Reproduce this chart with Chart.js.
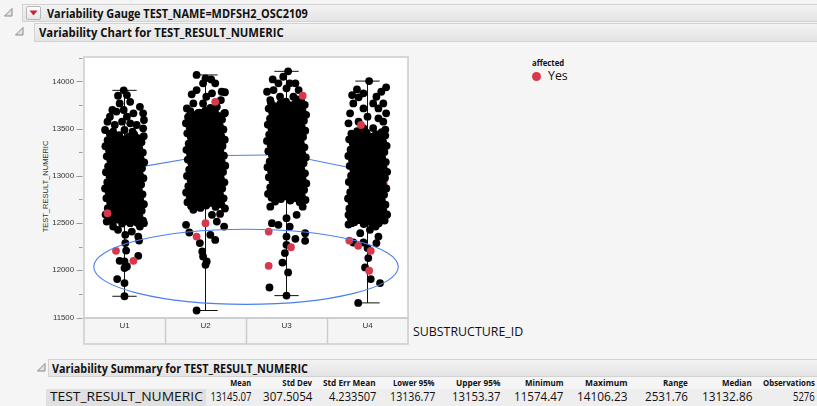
<!DOCTYPE html>
<html>
<head>
<meta charset="utf-8">
<script src="https://cdn.jsdelivr.net/npm/chart.js@4.4.1/dist/chart.umd.min.js"></script>
<style>
  html, body { margin: 0; padding: 0; }
  body { width: 817px; height: 406px; background: #f5f5f5; position: relative; overflow: hidden;
         font-family: "Open Sans", "Noto Sans", sans-serif; color: #111; }
  #chart { position: absolute; left: 0; top: 0; }
  .bar { position: absolute; box-sizing: border-box; border: 1px solid #d2d2d2;
         background: linear-gradient(#f2f2f2, #e4e4e4); }
  .t { position: absolute; white-space: nowrap; line-height: 1.2; }
  .b { font-weight: 700; }
  .tri { position: absolute; }
  .btn { position: absolute; left: 26px; top: 6px; width: 15px; height: 14px; box-sizing: border-box;
         border: 1px solid #b8b8b8; border-radius: 2px; background: linear-gradient(#ffffff, #e6e6e6); }
  .row { position: absolute; left: 206px; top: 389px; width: 611px; height: 17px; background: #eeeeee; }
  .cell { position: absolute; left: 46px; top: 389px; width: 160px; height: 17px; background: #e0e0e0; }
  .dot { position: absolute; left: 532px; top: 72px; width: 9.4px; height: 9.4px; border-radius: 50%; background: #d7384b; }
  #ytitle { position: absolute; white-space: nowrap; font-family: "Liberation Sans", sans-serif; font-size: 8px; color: #333; }
</style>
</head>
<body>
<!-- report outline header -->
<div class="bar" style="left:22px; top:4px; width:800px; height:18px;"></div>
<svg class="tri" style="left:4px; top:8px" width="9" height="9"><polygon points="8,0.5 8,8 0.5,8" fill="#e2e2e2" stroke="#8a8a8a" stroke-width="1"/></svg>
<div class="btn"><svg width="13" height="12" style="position:absolute;left:0;top:0"><polygon points="2.5,3.5 10.5,3.5 6.5,8.5" fill="#d0202e"/></svg></div>
<div class="t b" data-l="47" data-cy="13" data-w="261" style="font-size:12.5px">Variability Gauge TEST_NAME=MDFSH2_OSC2109</div>

<div class="bar" style="left:34px; top:23px; width:790px; height:19px;"></div>
<svg class="tri" style="left:15px; top:27px" width="9" height="9"><polygon points="8,0.5 8,8 0.5,8" fill="#e2e2e2" stroke="#8a8a8a" stroke-width="1"/></svg>
<div class="t b" data-l="39" data-cy="32" data-w="245" style="font-size:12.5px">Variability Chart for TEST_RESULT_NUMERIC</div>

<!-- legend -->
<div class="t b" data-l="532" data-cy="62.5" data-w="32" style="font-size:8px">affected</div>
<div class="dot"></div>
<div class="t" data-l="547.5" data-cy="76" data-w="20" style="font-size:13px">Yes</div>

<!-- axis titles -->
<div id="ytitle">TEST_RESULT_NUMERIC</div>
<div class="t" data-l="413" data-cy="331" data-w="110" style="font-size:12.5px">SUBSTRUCTURE_ID</div>

<!-- summary table -->
<div class="bar" style="left:48px; top:359px; width:780px; height:18px;"></div>
<svg class="tri" style="left:37px; top:363px" width="9" height="9"><polygon points="8,0.5 8,8 0.5,8" fill="#e2e2e2" stroke="#8a8a8a" stroke-width="1"/></svg>
<div class="t b" data-l="52" data-cy="368.5" data-w="256" style="font-size:12.5px">Variability Summary for TEST_RESULT_NUMERIC</div>
<div class="row"></div>
<div class="cell"></div>
<div id="summary"></div>

<canvas id="chart" width="817" height="406"></canvas>

<script>
// ---- data -------------------------------------------------------------
const categories = ['U1', 'U2', 'U3', 'U4'];
const yLabelTicks = [11500, 12000, 12500, 13000, 13500, 14000];
const cellMeans = [13066, 13213, 13223, 13048];
const rangeLow = [11725, 11574.47, 11732, 11655];
const rangeHigh = [13905, 14068, 14106.23, 14003];

// dense middle of each cell (values only, jittered sideways when drawn)
const coreU1 = [13445,13436,13431,13420,13414,13402,13398,13387,13378,13373,13361,13356,13344,13339,13330,13318,13313,13304,13293,13290,13278,13270,13266,13255,13246,13241,13229,13222,13214,13206,13197,13193,13180,13176,13165,13157,13150,13143,13132,13128,13116,13110,13101,13096,13084,13079,13070,13061,13055,13043,13039,13029,13020,13016,13004,12998,12990,12979,12975,12963,12958,12947,12942,12933,12922,12918,12907,12900,12893,12882,12878,12866,12861,12850,12845,12836,12825,12821,12809,12804,12796,12785,12781,12769,12763,12755,12744,12741,12728,12723,12714,12704,12699,12688,12683,12672,12667,12658,12647,12643,12631,12626,12617,12606,12601,12590,12585,12576,12565,12561,12549,12543,12536,12525,12520,12508,12503,12495];
const coreU2 = [13692,13684,13679,13668,13662,13650,13646,13635,13627,13622,13610,13604,13597,13586,13582,13570,13563,13557,13545,13541,13530,13522,13517,13505,13499,13491,13480,13476,13464,13459,13450,13439,13435,13423,13417,13409,13398,13394,13382,13376,13368,13357,13353,13341,13336,13327,13316,13312,13300,13295,13286,13275,13271,13259,13254,13245,13234,13230,13218,13213,13204,13193,13189,13177,13172,13163,13152,13148,13136,13131,13122,13111,13107,13095,13090,13081,13070,13066,13054,13049,13040,13029,13025,13013,13008,12999,12988,12984,12972,12967,12958,12947,12943,12931,12926,12917,12906,12902,12890,12885,12876,12865,12861,12849,12844,12835,12824,12820,12808,12803,12794,12783,12779,12767,12762,12753,12742,12738,12726,12721,12712,12701,12697,12685,12680,12671,12660,12654];
const coreU3 = [13792,13786,13777,13770,13764,13752,13748,13737,13729,13724,13712,13707,13698,13687,13683,13671,13666,13657,13646,13642,13630,13625,13616,13605,13601,13589,13584,13575,13564,13560,13548,13543,13534,13523,13519,13507,13502,13493,13482,13478,13466,13461,13452,13441,13437,13425,13420,13411,13400,13396,13384,13379,13370,13359,13355,13343,13338,13329,13318,13314,13302,13297,13288,13277,13273,13261,13256,13247,13236,13232,13220,13215,13206,13195,13191,13179,13174,13165,13154,13150,13138,13133,13124,13113,13109,13097,13092,13083,13072,13068,13056,13051,13042,13031,13027,13015,13010,13001,12990,12986,12974,12969,12960,12949,12945,12933,12928,12919,12908,12904,12892,12887,12878,12867,12863,12851,12846,12837,12826,12822,12810,12805,12796,12785,12781,12769,12764,12755,12744,12738,12727,12721];
const coreU4 = [13472,13463,13458,13447,13441,13430,13426,13414,13409,13399,13390,13386,13374,13369,13358,13351,13345,13333,13328,13318,13310,13305,13293,13288,13277,13269,13264,13252,13247,13236,13228,13223,13211,13206,13195,13187,13182,13170,13165,13154,13146,13141,13129,13124,13113,13105,13100,13088,13083,13072,13064,13059,13047,13042,13031,13023,13018,13006,13001,12990,12982,12977,12965,12960,12949,12941,12936,12924,12919,12908,12900,12895,12883,12878,12867,12859,12854,12842,12837,12826,12818,12813,12801,12796,12785,12777,12772,12760,12755,12744,12736,12731,12719,12714,12703,12695,12690,12678,12673,12662,12654,12649,12637,12632,12621,12613,12608,12596,12591,12580,12572,12567,12555,12550,12539,12531,12526,12514,12509,12498,12490,12485,12473];

// scattered observations: [jitter offset (category units), value]
const spreadU1 = [[-0.01,13905],[-0.08,13848],[0.03,13855],[0.07,13784],[-0.06,13767],[0.19,13731],[-0.01,13697],[-0.15,13697],[-0.1,13680],[0.23,13662],[0.11,13662],[-0.18,13626],[0.03,13626],[0.24,13591],[-0.21,13573],[-0.03,13573],[0.07,13556],[-0.12,13538],[0.15,13538],[0.23,13503],[-0.24,13485],[0,13485],[-0.14,13467],[0.1,13467],
  [-0.22,12516],[0.07,12499],[0.24,12499],[0.16,12569],[-0.14,12463],[0.19,12463],[-0.08,12428],[0.09,12410],[0.01,12375],[0.17,12357],[0.18,12315],[0.01,12288],[0.02,12209],[0.17,12153],[-0.06,12100],[0,12093],[0.03,12040],[0,12023],[-0.09,11907],[0,11865],[0,11725]];
const spreadU2 = [[-0.11,14068],[0,14032],[0.07,14021],[0.12,13979],[-0.03,13979],[-0.11,13908],[0.2,13890],[0.24,13885],[0.08,13873],[-0.17,13863],[0.01,13837],[0.19,13802],[-0.15,13767],[-0.03,13767],[0.14,13731],[-0.23,13714],[-0.09,13665],[0.24,13665],[-0.21,13626],[0.06,13720],
  [0.18,12597],[0.08,12587],[-0.15,12640],[0.14,12516],[-0.24,12481],[0.23,12463],[-0.2,12400],[0.06,12375],[0.12,12322],[-0.07,12288],[-0.04,12199],[-0.03,12146],[0.015,12093],[0,12058],[-0.11,11574.47]];
const spreadU3 = [[0.02,14106.23],[-0.04,14049],[-0.17,14021],[0.11,13979],[0.04,13979],[-0.1,13979],[0,13926],[0.15,13908],[-0.16,13908],[-0.24,13890],[0.085,13837],[-0.08,13837],[-0.2,13802],[0.13,13810],
  [-0.2,12674],[0.2,12674],[0.125,12587],[0,12552],[-0.18,12499],[-0.1,12481],[0.04,12463],[0.23,12393],[0,12357],[0.11,12333],[0.23,12312],[0,12270],[-0.02,12182],[-0.05,12082],[0.02,11977],[-0.21,11818],[0,11732]];
const spreadU4 = [[0.02,14003],[0.23,13937],[-0.13,13915],[0.17,13890],[-0.05,13873],[-0.19,13855],[0.11,13837],[-0.11,13831],[0.07,13767],[0.195,13767],[-0.175,13767],[-0.05,13714],[0.135,13714],[-0.215,13662],[0.23,13662],[0,13626],[0.135,13609],[0.195,13573],[-0.11,13573],[-0.235,13556],[-0.05,13506],[0.07,13506],[0.22,13490],
  [-0.235,12587],[0.24,12587],[0.195,12552],[-0.195,12499],[0.03,12428],[0.1,12463],[-0.09,12393],[0.135,12357],[-0.175,12294],[-0.05,12294],[0.11,12288],[0,12235],[0.01,12129],[-0.03,12030],[0.04,11907],[0.155,11865],[-0.115,11655]];

// affected = Yes observations: [jitter offset, value]
const affectedU1 = [[-0.21,12605],[-0.105,12206],[0.11,12100],[-0.07,13239],[0.06,12975]];
const affectedU2 = [[0.12,13784],[0.18,13327],[-0.07,12978],[-0.11,12357],[0,12499]];
const affectedU3 = [[0.2,13848],[-0.14,13380],[0.08,13309],[-0.2,12820],[-0.22,12410],[0.055,12245],[-0.22,12047]];
const affectedU4 = [[-0.08,13538],[0,13309],[-0.05,12992],[0.2,12925],[-0.225,12315],[-0.115,12259],[0.04,12206],[0.02,11995]];

// hand-drawn highlight ring (centre and radii in axis units)
const ringCenter = [1.5, 12037];
const ringRadii = [1.88, 398];

// summary statistics row
const summaryHeads = ['Mean','Std Dev','Std Err Mean','Lower 95%','Upper 95%','Minimum','Maximum','Range','Median','Observations'];
const summaryValues = ['13145.07','307.5054','4.233507','13136.77','13153.37','11574.47','14106.23','2531.76','13132.86','5276'];

// ---- build point sets --------------------------------------------------
const RED = '#d7384b';
const BLUE = '#4a80ee';
const JITTER = 0.245;
const PHI = 0.6180339887;
const cores = [coreU1, coreU2, coreU3, coreU4];
const spreads = [spreadU1, spreadU2, spreadU3, spreadU4];
const affected = [affectedU1, affectedU2, affectedU3, affectedU4];

const blackPts = [];
cores.forEach((vals, g) => vals.forEach((v, i) => {
  const f = (i * PHI + 0.37 * g + 0.13) % 1;
  blackPts.push({ x: g + (f - 0.5) * 2 * JITTER, y: v });
}));
spreads.forEach((pairs, g) => pairs.forEach(([o, v]) => blackPts.push({ x: g + o, y: v })));

// affected points inside the dense band sit under the black cloud,
// those above, below or on its outer rim are drawn on top
const redBack = [], redFront = [];
affected.forEach((pairs, g) => {
  const lo = Math.min(...cores[g]), hi = Math.max(...cores[g]);
  pairs.forEach(([o, v]) => {
    const inside = v >= lo && v <= hi && Math.abs(o) < 0.21;
    (inside ? redBack : redFront).push({ x: g + o, y: v });
  });
});

const whiskers = [];
categories.forEach((c, g) => {
  whiskers.push({ x: g, y: rangeLow[g] }, { x: g, y: rangeHigh[g] }, { x: g, y: null },
    { x: g - 0.15, y: rangeHigh[g] }, { x: g + 0.15, y: rangeHigh[g] }, { x: g, y: null },
    { x: g - 0.15, y: rangeLow[g] }, { x: g + 0.15, y: rangeLow[g] }, { x: g, y: null });
});
const meanLine = cellMeans.map((m, g) => ({ x: g, y: m }));

// ---- plot decorations ---------------------------------------------------
const BOX_H = 26;
const decor = {
  id: 'decor',
  beforeDatasetsDraw(chart) {
    const { ctx, chartArea: a } = chart;
    ctx.save();
    ctx.fillStyle = '#ffffff';
    ctx.fillRect(a.left, a.top, a.right - a.left, a.bottom - a.top);
    ctx.restore();
  },
  afterDatasetsDraw(chart) {
    const { ctx, scales: { x, y } } = chart;
    const cx = x.getPixelForValue(ringCenter[0]);
    const cy = y.getPixelForValue(ringCenter[1]);
    const rx = Math.abs(x.getPixelForValue(ringCenter[0] + ringRadii[0]) - cx);
    const ry = Math.abs(y.getPixelForValue(ringCenter[1] + ringRadii[1]) - cy);
    ctx.save();
    ctx.strokeStyle = BLUE;
    ctx.lineWidth = 1.1;
    ctx.beginPath();
    ctx.ellipse(cx, cy, rx, ry, 0, 0, Math.PI * 2);
    ctx.stroke();
    ctx.restore();
  },
  afterDraw(chart) {
    const { ctx, chartArea: a, scales: { x, y } } = chart;
    ctx.save();
    ctx.strokeStyle = '#cccccc';
    ctx.lineWidth = 1.5;
    ctx.strokeRect(a.left, a.top, a.right - a.left, a.bottom - a.top);
    ctx.strokeRect(a.left, a.bottom, a.right - a.left, BOX_H);
    for (let k = 0; k < categories.length - 1; k++) {
      const px = Math.round(x.getPixelForValue(k + 0.5)) + 0.5;
      ctx.beginPath(); ctx.moveTo(px, a.bottom); ctx.lineTo(px, a.bottom + BOX_H); ctx.stroke();
    }
    ctx.strokeStyle = '#999999';
    ctx.lineWidth = 1;
    for (let v = yLabelTicks[0]; v <= y.max; v += 250) {
      const py = Math.round(y.getPixelForValue(v)) + 0.5;
      const len = yLabelTicks.includes(v) ? 6 : 3.5;
      ctx.beginPath(); ctx.moveTo(a.left - 1.5 - len, py); ctx.lineTo(a.left - 1.5, py); ctx.stroke();
    }
    ctx.restore();
  }
};

const dot = { pointRadius: 3.9, pointHoverRadius: 3.9, borderWidth: 0, showLine: false };

new Chart(document.getElementById('chart'), {
  type: 'scatter',
  data: {
    datasets: [
      { data: redFront, backgroundColor: RED, ...dot, order: 0 },
      { data: blackPts, backgroundColor: '#000000', ...dot, order: 1 },
      { data: redBack, backgroundColor: RED, ...dot, order: 2 },
      { data: whiskers, showLine: true, spanGaps: false, borderColor: '#111111', borderWidth: 1,
        pointRadius: 0, order: 3 },
      { data: meanLine, showLine: true, borderColor: BLUE, borderWidth: 1.1, pointRadius: 0, order: 4 }
    ]
  },
  options: {
    responsive: false,
    animation: false,
    devicePixelRatio: 1,
    layout: { padding: { left: 0, top: 57, right: 409, bottom: 62 } },
    plugins: { legend: { display: false }, tooltip: { enabled: false } },
    scales: {
      x: {
        type: 'linear', min: -0.5, max: 3.5,
        afterBuildTicks: s => { s.ticks = categories.map((c, i) => ({ value: i })); },
        afterFit: s => { s.height = BOX_H; },
        ticks: { callback: v => categories[v], padding: 3, color: '#333',
                 font: { family: 'Liberation Sans', size: 8 }, maxRotation: 0, autoSkip: false },
        grid: { display: false, drawTicks: false },
        border: { display: false }
      },
      y: {
        min: 11495, max: 14258,
        afterBuildTicks: s => { s.ticks = yLabelTicks.map(v => ({ value: v })); },
        afterFit: s => { s.width = 84; },
        ticks: { callback: v => String(v), padding: 10, color: '#333',
                 font: { family: 'Liberation Sans', size: 7.8 } },
        grid: { display: false, drawTicks: false },
        border: { display: false }
      }
    }
  },
  plugins: [decor]
});

// ---- summary table text --------------------------------------------------
const headRight = [250.7, 312, 376, 435, 500, 563, 627, 688, 752, 815];
const headWidth = [20.7, 29.7, 53, 42, 44, 38, 42, 25, 30, 52];
const valWidth = [40.6, 49, 47, 45, 48, 49, 50, 43, 50, 22];
const summary = document.getElementById('summary');
summaryHeads.forEach((h, i) => {
  summary.insertAdjacentHTML('beforeend',
    `<div class="t b" data-r="${headRight[i]}" data-cy="383.5" data-w="${headWidth[i]}" style="font-size:9px">${h}</div>` +
    `<div class="t" data-r="${headRight[i]}" data-cy="397" data-w="${valWidth[i]}" style="font-size:13px">${summaryValues[i]}</div>`);
});
summary.insertAdjacentHTML('beforeend',
  `<div class="t" data-l="50" data-cy="397" data-w="153" style="font-size:13px">TEST_RESULT_NUMERIC</div>`);

// place and fit text boxes
document.querySelectorAll('.t[data-w]').forEach(el => {
  const w = el.offsetWidth, h = el.offsetHeight;
  const s = +el.dataset.w / w;
  el.style.top = (+el.dataset.cy - h / 2) + 'px';
  if (el.dataset.r) {
    el.style.left = (+el.dataset.r - w) + 'px';
    el.style.transformOrigin = 'right center';
  } else {
    el.style.left = el.dataset.l + 'px';
    el.style.transformOrigin = 'left center';
  }
  el.style.transform = `scaleX(${s})`;
});

const yt = document.getElementById('ytitle');
const ys = 92 / yt.offsetWidth;
yt.style.left = (46 - yt.offsetWidth / 2) + 'px';
yt.style.top = (186 - yt.offsetHeight / 2) + 'px';
yt.style.transform = `rotate(-90deg) scaleX(${ys})`;
</script>
</body>
</html>
